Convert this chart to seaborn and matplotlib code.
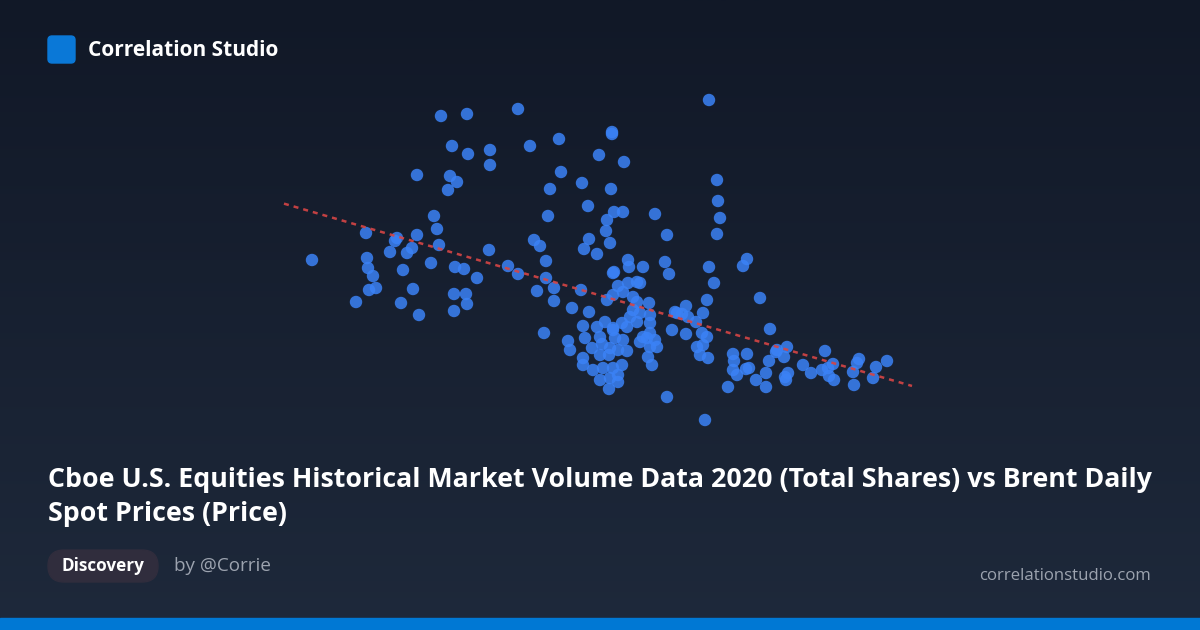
import numpy as np
import pandas as pd
import matplotlib.pyplot as plt
from matplotlib.patches import FancyBboxPatch, Rectangle
import seaborn as sns

# daily total shares (billions) vs Brent spot price (USD)
volume = [
    6.24, 7.12, 7.32, 7.34, 7.36, 7.46, 7.38, 7.52, 7.80, 7.90, 7.94, 8.02, 8.06, 8.14,
    8.24, 8.26, 8.34, 8.38, 8.34, 8.62, 8.68, 8.74, 8.78, 8.82, 8.96, 9.00, 9.04, 9.08,
    9.08, 9.10, 9.14, 9.28, 9.32, 9.34, 9.34, 9.36, 9.54, 9.78, 9.80, 9.80,
    10.16, 10.36, 10.36, 10.60, 10.68, 10.80, 10.92, 10.92, 10.96, 11.00, 11.08, 11.08,
    10.74, 11.18, 11.22, 11.44, 11.62, 11.64, 11.68, 11.78, 11.78, 11.76, 11.94, 11.98,
    12.12, 12.14, 12.20, 12.22, 12.24, 12.24, 12.28, 12.28, 12.46, 12.48, 12.56, 12.58,
    12.86, 13.10, 13.30, 13.34, 13.38, 14.18, 14.18, 14.28, 14.34, 14.36, 14.40, 14.34,
    14.94, 14.86, 15.20, 15.40, 10.88, 11.36, 11.40, 11.66, 11.70,
    12.26, 12.36, 12.56, 12.74, 12.80, 12.46, 12.26, 12.14, 12.66, 12.74, 12.98, 12.66,
    12.80, 12.60, 12.54, 12.74, 13.00, 13.00, 12.10, 12.26, 12.00, 12.86, 13.00, 11.94,
    12.26, 12.44, 12.30, 12.46, 12.80, 12.94, 13.00, 11.84, 12.04, 12.20, 12.36, 12.54,
    12.00, 12.18, 11.66, 11.66, 11.86, 12.06, 12.26, 12.44, 12.36, 12.00, 12.20, 12.36,
    12.18, 12.96, 13.04, 13.10, 13.14,
    13.44, 13.50, 13.54, 13.64, 13.72, 13.76, 13.92, 14.06, 14.14, 13.72, 14.04, 14.14,
    13.94, 14.06, 14.00, 14.16, 13.34, 14.10, 14.56, 14.66, 14.68, 14.66, 14.74, 14.92,
    14.98, 14.94, 15.12, 15.32, 15.32, 15.38, 15.54, 15.52, 15.74, 15.68, 15.76, 15.70,
    15.72, 16.06, 16.22, 16.50, 16.44, 16.56, 16.66, 16.58, 16.68, 17.06, 17.14, 17.18,
    17.08, 17.46, 17.52, 17.74,
]
price = [
    38.0, 29.6, 43.4, 38.4, 36.4, 34.8, 32.0, 32.4, 39.6, 41.8, 42.4, 29.4, 36.0, 39.4,
    40.4, 32.2, 43.0, 27.0, 55.0, 37.4, 46.8, 44.2, 41.0, 66.8, 52.0, 54.8, 60.8, 31.2,
    27.8, 36.6, 53.6, 36.2, 31.2, 29.2, 67.2, 59.2, 34.4, 40.0, 60.0, 57.0,
    36.8, 35.2, 68.2, 60.8, 42.0, 40.8, 37.8, 34.4, 46.8, 52.2, 32.4, 29.8,
    31.8, 62.2, 55.6, 28.4, 32.0, 53.4, 40.2, 42.2, 27.6, 48.8, 39.2, 59.0,
    43.8, 46.0, 41.4, 52.2, 63.6, 63.2, 47.6, 35.6, 47.6, 57.6, 38.0, 36.6,
    36.6, 47.2, 37.6, 43.0, 35.2, 70.0, 36.6, 33.4, 54.0, 49.8, 46.4, 43.2,
    38.2, 36.8, 30.4, 24.2, 23.4, 21.8, 20.0, 24.8, 22.4,
    35.4, 32.8, 33.4, 33.6, 33.4, 31.6, 31.0, 30.0, 30.6, 29.6, 29.4, 28.0,
    27.4, 26.6, 24.6, 25.6, 25.4, 27.0, 25.6, 24.0, 22.6, 22.6, 23.4, 24.6,
    24.4, 25.4, 22.4, 22.0, 21.6, 22.4, 20.6, 20.4, 21.2, 20.4, 20.0, 19.8,
    19.0, 19.0, 18.4, 17.0, 16.0, 16.4, 16.4, 17.0, 15.0, 14.0, 14.4, 13.6,
    12.2, 18.6, 17.0, 22.0, 20.6,
    24.0, 27.6, 27.4, 27.2, 28.8, 26.6, 25.6, 27.4, 30.0, 23.2, 23.4, 22.6,
    20.6, 21.0, 19.0, 18.4, 10.6, 6.0, 12.6, 19.2, 17.8, 16.0, 15.0, 16.2,
    16.4, 19.2, 14.0, 15.4, 12.6, 17.8, 20.0, 19.6, 20.6, 18.6, 15.4, 14.6,
    14.0, 17.0, 15.4, 19.8, 16.0, 16.4, 17.2, 14.8, 14.0, 15.6, 17.4, 18.2,
    13.0, 14.4, 16.6, 17.8,
]

brand = "Correlation Studio"
title = ("Cboe U.S. Equities Historical Market Volume Data 2020 (Total Shares) vs Brent Daily\n"
         "Spot Prices (Price)")
tag = "Discovery"
author = "by @Corrie"
site = "correlationstudio.com"

df = pd.DataFrame({"volume": volume, "price": price})

sns.set_theme(style="white")
plt.rcParams['font.family'] = ['Open Sans', 'DejaVu Sans']

fig = plt.figure(figsize=(12, 6.3), dpi=100)

# background gradient
bg = fig.add_axes([0, 0, 1, 1])
grad = np.linspace(0, 1, 256).reshape(-1, 1)
top = np.array([17, 24, 39]) / 255
bot = np.array([30, 41, 59]) / 255
img = top + (bot - top) * grad[:, :, None]
bg.imshow(img, aspect='auto', extent=[0, 1, 0, 1], origin='upper')
bg.set_axis_off()

ax = fig.add_axes([0, 0, 1, 1])
ax.patch.set_alpha(0)
sns.scatterplot(data=df, x="volume", y="price", ax=ax, color="#3b82f6",
                alpha=0.85, s=80, edgecolor="none", legend=False)

# linear trend
slope, icpt = np.polyfit(df["volume"], df["price"], 1)
xs = np.array([df["volume"].min() - 0.56, df["volume"].max() + 0.5])
sns.lineplot(x=xs, y=slope * xs + icpt - 1.0, ax=ax, color="#d64545", linewidth=1.8,
             linestyle=(0, (2, 2)), alpha=0.9)

ax.set_xlim(0, 24)
ax.set_ylim(-36, 90)
ax.set_axis_off()

# overlay in pixel units for the card furniture
ov = fig.add_axes([0, 0, 1, 1])
ov.set_xlim(0, 1200)
ov.set_ylim(630, 0)
ov.patch.set_alpha(0)
ov.set_axis_off()

ov.add_patch(FancyBboxPatch((48, 36), 27, 27, boxstyle="round,pad=0,rounding_size=4",
                            color="#0a78d7"))
ov.text(88, 50, brand, color="white", fontsize=15, fontweight="bold",
        va="center", ha="left")

ov.text(48, 497, title, color="white", fontsize=19.3, fontweight="bold",
        va="center", ha="left", linespacing=1.42)

ov.add_patch(FancyBboxPatch((48, 550), 110, 32, boxstyle="round,pad=0,rounding_size=16",
                            color="#302d3d"))
ov.text(103, 566, tag, color="white", fontsize=12.3, fontweight="bold",
        va="center", ha="center")
ov.text(174, 566, author, color="#9ca3af", fontsize=13.6, va="center", ha="left")
ov.text(1151, 576, site, color="#9ca3af", fontsize=12.1, va="center", ha="right")
ov.add_patch(Rectangle((0, 618), 1200, 12, color="#0078d4"))

fig.savefig("out.png", dpi=100)
